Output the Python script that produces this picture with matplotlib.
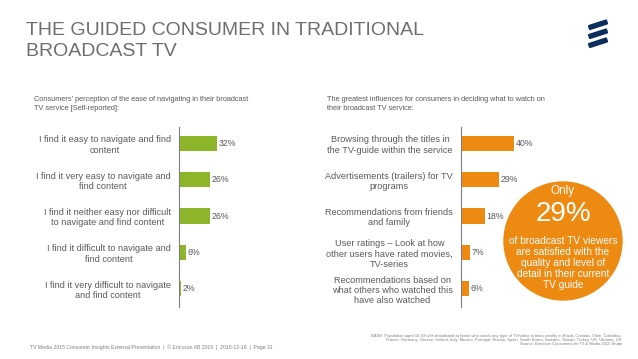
import matplotlib.pyplot as plt
from matplotlib.patches import Ellipse, Polygon

plt.rcParams['font.family'] = ['Liberation Sans', 'DejaVu Sans']

# data
left_labels = ["I find it easy to navigate and find\ncontent",
               "I find it very easy to navigate and\nfind content",
               "I find it neither easy nor difficult\nto navigate and find content",
               "I find it difficult to navigate and\nfind content",
               "I find it very difficult to navigate\nand find content"]
left_values = [32, 26, 26, 6, 2]

right_labels = ["Browsing through the titles in\nthe TV-guide within the service",
                "Advertisements (trailers) for TV\nprograms",
                "Recommendations from friends\nand family",
                "User ratings \u2013 Look at how\nother users have rated movies,\nTV-series",
                "Recommendations based on\nwhat others who watched this\nhave also watched"]
right_values = [40, 29, 18, 7, 6]

W, H = 638, 359
green = '#8cb529'
orange = '#ec8a12'
grey = '#595959'

fig = plt.figure(figsize=(W / 100, H / 100), dpi=100)


def box(x, y0, w, y1):
    # pixel box -> figure fraction
    return [x / W, 1 - y1 / H, w / W, (y1 - y0) / H]


def fx(x):
    return x / W


def fy(y):
    return 1 - y / H


def bar_panel(rect, labels, values, color, xmax):
    ax = fig.add_axes(rect)
    pos = range(len(values))
    ax.barh(pos, values, height=0.42, color=color)
    for p, v in zip(pos, values):
        ax.text(v + 1.2, p, f"{v}%", va='center', ha='left', fontsize=6.3, color=grey)
    ax.set_ylim(4.5, -0.45)
    ax.set_xlim(0, xmax)
    ax.set_yticks(list(pos))
    ax.set_yticklabels(labels, fontsize=6.6, color=grey, multialignment='center')
    ax.tick_params(axis='y', length=0, pad=6)
    ax.set_xticks([])
    for s in ['top', 'right', 'bottom']:
        ax.spines[s].set_visible(False)
    ax.spines['left'].set_color('#7f7f7f')
    ax.spines['left'].set_linewidth(0.8)
    return ax


bar_panel(box(179, 127, 120, 307), left_labels, left_values, green, 101)
bar_panel(box(461, 127, 132, 307), right_labels, right_values, orange, 100)

# title
fig.text(fx(26), fy(35), "THE GUIDED CONSUMER IN TRADITIONAL", fontsize=14, color='#6e6e6e',
         ha='left', va='baseline')
fig.text(fx(26), fy(56), "BROADCAST TV", fontsize=14, color='#6e6e6e', ha='left', va='baseline')

# subtitles
fig.text(fx(34), fy(104), "Consumers' perception of the ease of navigating in their broadcast\nTV service [Self-reported]:",
         fontsize=5.3, color=grey, ha='left', va='center', linespacing=1.3)
fig.text(fx(327), fy(104), "The greatest influences for consumers in deciding what to watch on\ntheir broadcast TV service:",
         fontsize=5.3, color=grey, ha='left', va='center', linespacing=1.3)

# logo
for dy in [0, 9, 18]:
    logo = Polygon([(fx(589), fy(26 + dy)), (fx(606), fy(20.5 + dy)),
                    (fx(607), fy(23.5 + dy)), (fx(590), fy(29 + dy))],
                   closed=True, transform=fig.transFigure, color='#0c2d5e', joinstyle='round',
                   linewidth=1.6)
    fig.add_artist(logo)

# callout circle
ell = Ellipse((fx(563), fy(241)), 2 * 59 / W, 2 * 59 / H, transform=fig.transFigure,
              color=orange, zorder=5)
fig.add_artist(ell)
fig.text(fx(563), fy(191), "Only", fontsize=8.5, color='white', ha='center', va='center', zorder=6)
fig.text(fx(563), fy(214), "29%", fontsize=20, color='white', ha='center', va='center', zorder=6)
fig.text(fx(563), fy(263), "of broadcast TV viewers\nare satisfied with the\nquality and level of\ndetail in their current\nTV guide",
         fontsize=7.3, color='white', ha='center', va='center', linespacing=1.15, zorder=6)

# footers
fig.text(fx(30), fy(347), "TV Media 2015 Consumer Insights External Presentation  |  \u00a9 Ericsson AB 2015  |  2015-12-16  |  Page 31",
         fontsize=3.7, color='#7f7f7f', ha='left', va='center')
fig.text(fx(622), fy(340), "BASE: Population aged 16-59 with broadband at home who watch any type of TV/video at least weekly in Brazil, Canada, Chile, Colombia,\n"
         "France, Germany, Greece, Ireland, Italy, Mexico, Portugal, Russia, Spain, South Korea, Sweden, Taiwan, Turkey, UK, Ukraine, US\n"
         "Source: Ericsson ConsumerLab TV & Media 2015 Study",
         fontsize=3.0, color='#7f7f7f', ha='right', va='center', multialignment='right', linespacing=1.1)

fig.savefig('out.png', dpi=100)
